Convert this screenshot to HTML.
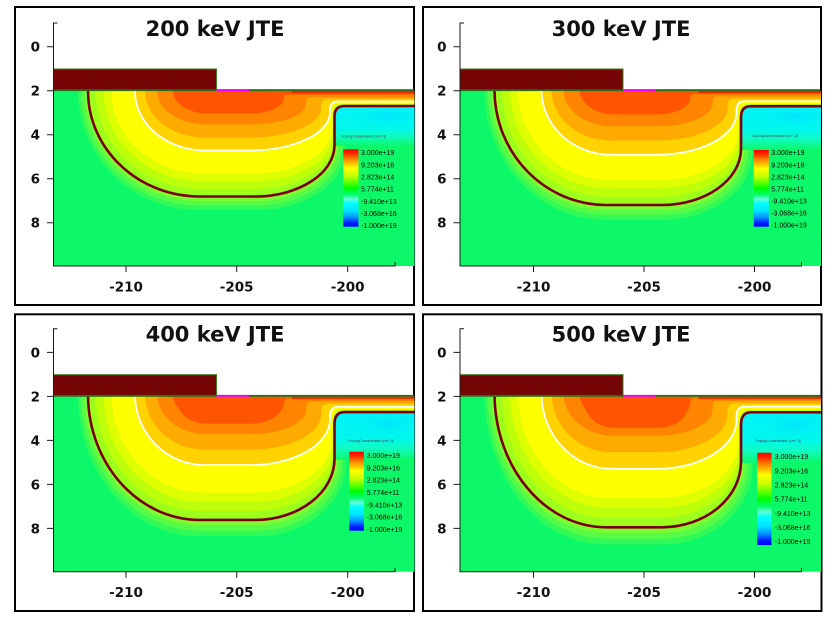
<!DOCTYPE html>
<html><head><meta charset="utf-8"><style>
html,body{margin:0;padding:0;background:#fff;}
svg{display:block;}
.t{font-family:"DejaVu Sans","Liberation Sans",sans-serif;font-weight:bold;font-size:21px;fill:#111;}
.yl{font-family:"DejaVu Sans","Liberation Sans",sans-serif;font-weight:bold;font-size:13.5px;fill:#111;text-anchor:end;}
.xl{font-family:"DejaVu Sans","Liberation Sans",sans-serif;font-weight:bold;font-size:13.5px;fill:#111;text-anchor:middle;}
.lg{font-family:"Liberation Sans",sans-serif;font-size:7px;fill:#000;}
.lt{font-family:"Liberation Sans",sans-serif;font-size:3.5px;fill:#445;}
</style></head><body>
<svg width="836" height="623" viewBox="0 0 836 623" xmlns="http://www.w3.org/2000/svg">
<defs>
<clipPath id="pc"><rect x="53.5" y="91" width="361" height="175"/></clipPath>
<linearGradient id="cy" x1="0" y1="0" x2="0" y2="1">
<stop offset="0" stop-color="#00f2f6"/><stop offset="0.55" stop-color="#00f7ec"/><stop offset="0.75" stop-color="#10fbc4"/><stop offset="1" stop-color="#0cf868"/>
</linearGradient>
<radialGradient id="cb2"><stop offset="0" stop-color="#00e0ff" stop-opacity="0.8"/><stop offset="1" stop-color="#00f2f6" stop-opacity="0"/></radialGradient>
<linearGradient id="cb" x1="0" y1="0" x2="0" y2="1">
<stop offset="0" stop-color="#ff0000"/><stop offset="0.06" stop-color="#ff3000"/><stop offset="0.12" stop-color="#ff8000"/><stop offset="0.2" stop-color="#ffd000"/><stop offset="0.24" stop-color="#ffff00"/><stop offset="0.34" stop-color="#c8ff00"/><stop offset="0.42" stop-color="#66ff00"/><stop offset="0.5" stop-color="#00ff00"/><stop offset="0.58" stop-color="#00ff66"/><stop offset="0.64" stop-color="#60ffd8"/><stop offset="0.7" stop-color="#00ffff"/><stop offset="0.8" stop-color="#00e0ff"/><stop offset="0.88" stop-color="#0090ff"/><stop offset="0.95" stop-color="#0020ff"/><stop offset="1" stop-color="#0000ff"/>
</linearGradient>
<g id="field">
<rect x="40" y="70" width="390" height="220" fill="#0cf868"/>
<path fill="#30f958" d="M78,91 C78,156.7 131.7,210 198,210 L258,210 C306.6,210 346,182.2 346,148 L346,118 Q346,106 358,106 L420,106 L420,80 L78,80 Z"/>
<path fill="#55fb46" d="M81,91 C81,154.2 133.8,205.5 199,205.5 L257,205.5 C303.9,205.5 342,179.3 342,147 L342,117 Q342,106 353,106 L420,106 L420,80 L81,80 Z"/>
<path fill="#7afd32" d="M84.5,91 C84.5,151.8 136.2,201 200,201 L256,201 C301.3,201 338,176.4 338,146 L338,116 Q338,106 348,106 L420,106 L420,80 L84.5,80 Z"/>
<rect x="334" y="106" width="86" height="40" fill="url(#cy)"/>
<ellipse cx="388" cy="116" rx="32" ry="10" fill="url(#cb2)"/>
<path fill="#9eff1c" d="M88,91 C88,149.3 138.1,196.5 200,196.5 L255,196.5 C298.9,196.5 334.5,173.4 334.5,145 L334.5,116 Q334.5,106 344.5,106 L420,106 L420,80 L88,80 Z"/>
<path fill="#bdff0a" d="M95.5,91 C95.5,145.1 142.6,189 200.8,189 L254.2,189 C298.3,189 334,166.9 334,139.7 L334,115.3 Q334,105.3 344,105.3 L420,105.3 L420,80 L95.5,80 Z"/>
<path fill="#deff00" d="M103.5,91 C103.5,140.9 147.5,181.3 201.7,181.3 L253.4,181.3 C297.5,181.3 333.3,160.2 333.3,134.1 L333.3,114 Q333.3,104.5 342.8,104.5 L420,104.5 L420,80 L103.5,80 Z"/>
<path fill="#ffff00" d="M111.5,91 C111.5,136.6 152.2,173.5 202.5,173.5 L252.5,173.5 C296.4,173.5 332,153.4 332,128.5 L332,112.75 Q332,103.75 341,103.75 L420,103.75 L420,80 L111.5,80 Z"/>
<path fill="#ffd200" d="M135,91 C135,123.9 166.3,150.5 205,150.5 L250,150.5 C294.2,150.5 330,133.3 330,112 L330,109.5 Q330,101.5 338,101.5 L420,101.5 L420,80 L135,80 Z"/>
<path fill="#ffaa00" d="M145,91 C145,116.7 171.9,137.5 205,137.5 L250,137.5 C289.2,137.5 321,124.3 321,108 L321,106 Q321,99 328,99 L420,99 L420,80 L145,80 Z"/>
<path fill="#ff8400" d="M157,91 C157,109.5 179.4,124.5 207,124.5 L250,124.5 C280.9,124.5 306,115.3 306,104 L306,103 Q306,97 312,97 L420,97 L420,80 L157,80 Z"/>
<path fill="#ff5500" d="M173,91 C173,103.4 188.7,113.5 208,113.5 L250,113.5 C268.8,113.5 284,106.6 284,98 Q284,94.5 288,94.5 L420,94.5 L420,80 L173,80 Z"/>
<path fill="none" stroke="#ffffff" stroke-width="1.8" vector-effect="non-scaling-stroke" d="M135,80 L135,91 C135,123.9 166.3,150.5 205,150.5 L250,150.5 C294.2,150.5 330,133.3 330,112 L330,109.5 Q330,101.5 338,101.5 L420,101.5"/>
<path fill="none" stroke="#7a0000" stroke-width="2.6" vector-effect="non-scaling-stroke" d="M88,80 L88,91 C88,149.3 138.1,196.5 200,196.5 L255,196.5 C298.9,196.5 334.5,173.4 334.5,145 L334.5,116 Q334.5,106 344.5,106 L420,106"/>
</g>
</defs>

<!-- panel boxes -->
<rect x="15" y="7" width="399" height="298" fill="none" stroke="#000" stroke-width="2"/>
<rect x="423" y="7" width="398" height="298" fill="none" stroke="#000" stroke-width="2"/>
<rect x="15" y="314.3" width="399" height="296.7" fill="none" stroke="#000" stroke-width="2"/>
<rect x="423" y="314.3" width="398.5" height="296.7" fill="none" stroke="#000" stroke-width="2"/>

<!-- PANEL 1 -->
<g>
<g clip-path="url(#pc)"><use href="#field" transform="matrix(1,0,0,1,0,0)"/><rect x="292" y="91" width="123" height="2.2" fill="#ff2200"/></g>
<rect x="53" y="69" width="163.5" height="21" fill="#760606"/>
<rect x="53" y="68.5" width="164" height="1" fill="#3a7a22"/>
<rect x="216" y="68.5" width="1" height="21" fill="#3a7a22"/>
<rect x="53" y="89.2" width="361" height="1.9" fill="#2b6b1b"/>
<rect x="216.5" y="89.2" width="32.5" height="1.9" fill="#ff00ff"/>
<path d="M57.5,23 H53.5 V266 H395 V262" fill="none" stroke="#1a1a1a" stroke-width="1"/>
<path d="M47,46.7 H53.5 M47,90.7 H53.5 M47,134.7 H53.5 M47,178.7 H53.5 M47,222.7 H53.5 M126,266 V272 M236.7,266 V272 M347.7,266 V272" stroke="#1a1a1a" stroke-width="1"/>
<text class="yl" x="40" y="51.6">0</text><text class="yl" x="40" y="95.6">2</text><text class="yl" x="40" y="139.6">4</text><text class="yl" x="40" y="183.6">6</text><text class="yl" x="40" y="227.6">8</text>
<text class="xl" x="126" y="291.5">-210</text><text class="xl" x="236.7" y="291.5">-205</text><text class="xl" x="347.7" y="291.5">-200</text>
<text class="t" x="215" y="36" text-anchor="middle">200 keV JTE</text>
<text class="lt" x="341" y="137.5">DopingConcentration [cm^-3]</text>
<rect x="343.3" y="149.3" width="15.2" height="77.4" fill="url(#cb)"/>
<text class="lg" x="361" y="155.2">3.000e+19</text><text class="lg" x="361" y="167.4">9.203e+16</text><text class="lg" x="361" y="179.5">2.823e+14</text><text class="lg" x="361" y="191.7">5.774e+11</text><text class="lg" x="361" y="203.9">-9.410e+13</text><text class="lg" x="361" y="216">-3.068e+16</text><text class="lg" x="361" y="228.2">-1.000e+19</text>
</g>

<!-- PANEL 2 -->
<g transform="translate(406.5,0)">
<g clip-path="url(#pc)"><use href="#field" transform="matrix(1,0,0,1.092,0,-9.568)"/><rect x="292" y="91" width="123" height="2.2" fill="#ff2200"/></g>
<rect x="53" y="69" width="163.5" height="21" fill="#760606"/>
<rect x="53" y="68.5" width="164" height="1" fill="#3a7a22"/>
<rect x="216" y="68.5" width="1" height="21" fill="#3a7a22"/>
<rect x="53" y="89.2" width="361" height="1.9" fill="#2b6b1b"/>
<rect x="216.5" y="89.2" width="32.5" height="1.9" fill="#ff00ff"/>
<path d="M57.5,23 H53.5 V266 H395 V262" fill="none" stroke="#1a1a1a" stroke-width="1"/>
<path d="M47,46.7 H53.5 M47,90.7 H53.5 M47,134.7 H53.5 M47,178.7 H53.5 M47,222.7 H53.5 M127,266 V272 M237.5,266 V272 M348,266 V272" stroke="#1a1a1a" stroke-width="1"/>
<text class="yl" x="40" y="51.6">0</text><text class="yl" x="40" y="95.6">2</text><text class="yl" x="40" y="139.6">4</text><text class="yl" x="40" y="183.6">6</text><text class="yl" x="40" y="227.6">8</text>
<text class="xl" x="127" y="291.5">-210</text><text class="xl" x="237.5" y="291.5">-205</text><text class="xl" x="348" y="291.5">-200</text>
<text class="t" x="214.5" y="36" text-anchor="middle">300 keV JTE</text>
<text class="lt" x="346" y="137">DopingConcentration [cm^-3]</text>
<rect x="347.3" y="150" width="15" height="76.7" fill="url(#cb)"/>
<text class="lg" x="364.7" y="155.2">3.000e+19</text><text class="lg" x="364.7" y="167.3">9.203e+16</text><text class="lg" x="364.7" y="179.3">2.823e+14</text><text class="lg" x="364.7" y="191.4">5.774e+11</text><text class="lg" x="364.7" y="203.4">-9.410e+13</text><text class="lg" x="364.7" y="215.5">-3.068e+16</text><text class="lg" x="364.7" y="227.5">-1.000e+19</text>
</g>

<!-- PANEL 3 -->
<g transform="translate(0,305.7)">
<g clip-path="url(#pc)"><use href="#field" transform="matrix(1,0,0,1.192,0,-19.968)"/><rect x="292" y="91" width="123" height="2.2" fill="#ff2200"/><path fill="#ff5500" d="M176,91 C176,108 190,118 208,118 L250,118 C268,118 282,110 282,100 L282,91 Z"/></g>
<rect x="53" y="69" width="163.5" height="21" fill="#760606"/>
<rect x="53" y="68.5" width="164" height="1" fill="#3a7a22"/>
<rect x="216" y="68.5" width="1" height="21" fill="#3a7a22"/>
<rect x="53" y="89.2" width="361" height="1.9" fill="#2b6b1b"/>
<rect x="216.5" y="89.2" width="32.5" height="1.9" fill="#ff00ff"/>
<path d="M57.5,23 H53.5 V266 H395 V262" fill="none" stroke="#1a1a1a" stroke-width="1"/>
<path d="M47,46.7 H53.5 M47,90.7 H53.5 M47,134.7 H53.5 M47,178.7 H53.5 M47,222.7 H53.5 M126,266 V272 M236.7,266 V272 M347.7,266 V272" stroke="#1a1a1a" stroke-width="1"/>
<text class="yl" x="40" y="51.6">0</text><text class="yl" x="40" y="95.6">2</text><text class="yl" x="40" y="139.6">4</text><text class="yl" x="40" y="183.6">6</text><text class="yl" x="40" y="227.6">8</text>
<text class="xl" x="126" y="291.5">-210</text><text class="xl" x="236.7" y="291.5">-205</text><text class="xl" x="347.7" y="291.5">-200</text>
<text class="t" x="215" y="36" text-anchor="middle">400 keV JTE</text>
<text class="lt" x="348.3" y="136.5">DopingConcentration [cm^-3]</text>
<rect x="349.3" y="146" width="14.7" height="79" fill="url(#cb)"/>
<text class="lg" x="366.7" y="152.5">3.000e+19</text><text class="lg" x="366.7" y="164.8">9.203e+16</text><text class="lg" x="366.7" y="177">2.823e+14</text><text class="lg" x="366.7" y="189.3">5.774e+11</text><text class="lg" x="366.7" y="201.6">-9.410e+13</text><text class="lg" x="366.7" y="213.9">-3.068e+16</text><text class="lg" x="366.7" y="226.1">-1.000e+19</text>
</g>

<!-- PANEL 4 -->
<g transform="translate(406.5,305.7)">
<g clip-path="url(#pc)"><use href="#field" transform="matrix(1,0,0,1.271,0,-28.184)"/><rect x="292" y="91" width="123" height="2.2" fill="#ff2200"/><path fill="#ff5500" d="M177,91 C177,111 191,122 208,122 L250,122 C268,122 281,113 281,101 L281,91 Z"/></g>
<rect x="53" y="69" width="163.5" height="21" fill="#760606"/>
<rect x="53" y="68.5" width="164" height="1" fill="#3a7a22"/>
<rect x="216" y="68.5" width="1" height="21" fill="#3a7a22"/>
<rect x="53" y="89.2" width="361" height="1.9" fill="#2b6b1b"/>
<rect x="216.5" y="89.2" width="32.5" height="1.9" fill="#ff00ff"/>
<path d="M57.5,23 H53.5 V266 H395 V262" fill="none" stroke="#1a1a1a" stroke-width="1"/>
<path d="M47,46.7 H53.5 M47,90.7 H53.5 M47,134.7 H53.5 M47,178.7 H53.5 M47,222.7 H53.5 M127,266 V272 M237.5,266 V272 M348,266 V272" stroke="#1a1a1a" stroke-width="1"/>
<text class="yl" x="40" y="51.6">0</text><text class="yl" x="40" y="95.6">2</text><text class="yl" x="40" y="139.6">4</text><text class="yl" x="40" y="183.6">6</text><text class="yl" x="40" y="227.6">8</text>
<text class="xl" x="127" y="291.5">-210</text><text class="xl" x="237.5" y="291.5">-205</text><text class="xl" x="348" y="291.5">-200</text>
<text class="t" x="214.5" y="36" text-anchor="middle">500 keV JTE</text>
<text class="lt" x="348.8" y="136.5">DopingConcentration [cm^-3]</text>
<rect x="350.7" y="147" width="14.3" height="92.3" fill="url(#cb)"/>
<text class="lg" x="368.3" y="153.5">3.000e+19</text><text class="lg" x="368.3" y="167.7">9.203e+16</text><text class="lg" x="368.3" y="181.8">2.823e+14</text><text class="lg" x="368.3" y="196">5.774e+11</text><text class="lg" x="368.3" y="210.2">-9.410e+13</text><text class="lg" x="368.3" y="224.4">-3.068e+16</text><text class="lg" x="368.3" y="238.5">-1.000e+19</text>
</g>
</svg>
</body></html>
